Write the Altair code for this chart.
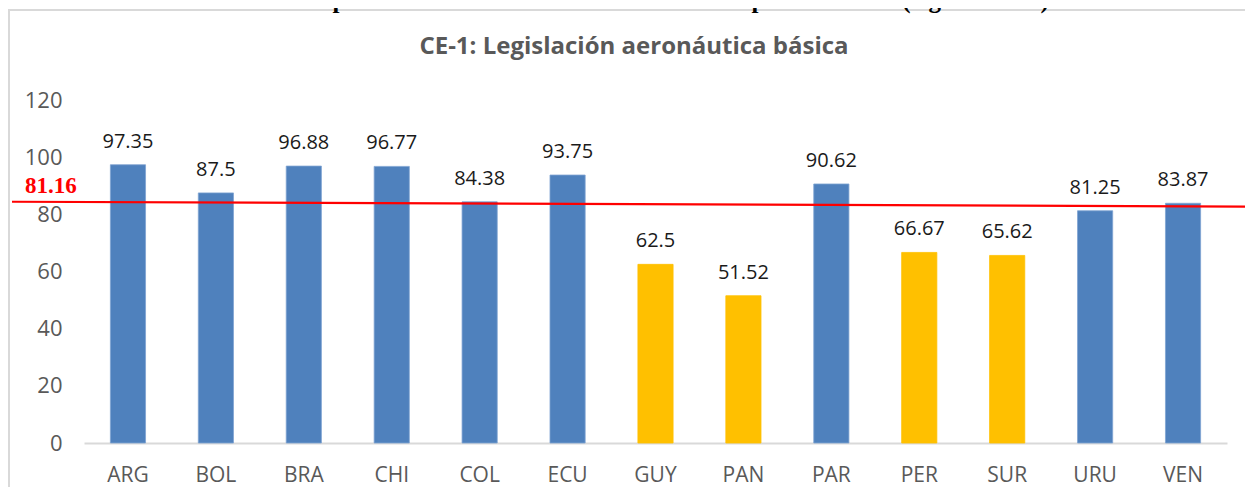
import altair as alt
import pandas as pd

# ---- data ----
countries = ["ARG", "BOL", "BRA", "CHI", "COL", "ECU", "GUY", "PAN", "PAR", "PER", "SUR", "URU", "VEN"]
values = [97.35, 87.5, 96.88, 96.77, 84.38, 93.75, 62.5, 51.52, 90.62, 66.67, 65.62, 81.25, 83.87]
groups = ["above", "above", "above", "above", "above", "above", "below", "below", "above", "below", "below", "above", "above"]
y_ticks = [0, 20, 40, 60, 80, 100, 120]

ref_label = "81.16"
ref_line_left = 84.4   # drawn red line, value at its left end
ref_line_right = 82.7  # value at its right end

chart_title = "CE-1: Legislación aeronáutica básica"
doc_title = "Tabla 6-1 - Aplicación eficaz de los Estados SAM respecto al CE-1 (Agosto 2017)"

df = pd.DataFrame({"country": countries, "value": values, "group": groups})
one = pd.DataFrame({"k": [0]})

W, H = 1143, 343

x_enc = alt.X("country:N", sort=countries,
              scale=alt.Scale(paddingInner=0.6, paddingOuter=0.3),
              axis=alt.Axis(title=None, labelAngle=0, ticks=False, domain=True,
                            domainColor="#d9d9d9", domainWidth=2,
                            labelFontSize=21, labelColor="#595959",
                            labelFont="Open Sans", labelPadding=21))
y_enc = alt.Y("value:Q", scale=alt.Scale(domain=[0, 120], nice=False),
              axis=alt.Axis(title=None, values=y_ticks, grid=False, ticks=False,
                            domain=False, labelFontSize=22, labelColor="#595959",
                            labelFont="Open Sans", labelPadding=22))

frame = alt.Chart(one).mark_rect(fill=None, stroke="#d9d9d9", strokeWidth=2).encode(
    x=alt.value(-75), x2=alt.value(1250), y=alt.value(-90), y2=alt.value(450))

bars = alt.Chart(df).mark_bar(stroke="#6f97cb", strokeWidth=0.8).encode(
    x=x_enc, y=y_enc,
    color=alt.Color("group:N", scale=alt.Scale(domain=["above", "below"],
                                               range=["#4f81bd", "#ffc000"]), legend=None),
    stroke=alt.Color("group:N", scale=alt.Scale(domain=["above", "below"],
                                                range=["#7fa3d2", "#ffc000"]), legend=None))

labels = alt.Chart(df).mark_text(fontSize=20, font="Open Sans", color="#1a1a1a",
                                 baseline="alphabetic", dy=-17).encode(
    x=alt.X("country:N", sort=countries), y="value:Q", text=alt.Text("value:Q"))

red_line = alt.Chart(one).mark_rule(color="#ff0000", strokeWidth=2.2).encode(
    x=alt.value(-72), x2=alt.value(1175),
    y=alt.datum(ref_line_left), y2=alt.datum(ref_line_right))

red_text = alt.Chart(one).mark_text(font="Liberation Serif", fontWeight="bold", fontSize=23,
                                    color="#ff0000", align="left", baseline="alphabetic",
                                    dy=-9).encode(
    x=alt.value(-59), y=alt.datum(ref_line_left), text=alt.value(ref_label))

title_text = alt.Chart(one).mark_text(font="Open Sans", fontWeight="bold", fontSize=24,
                                      color="#595959", align="center",
                                      baseline="alphabetic").encode(
    x=alt.value(550), y=alt.value(-46), text=alt.value(chart_title))

doc_text = alt.Chart(one).mark_text(font="Liberation Serif", fontWeight="bold", fontSize=25,
                                    color="#000000", align="center",
                                    baseline="alphabetic").encode(
    x=alt.value(538), y=alt.value(-92), text=alt.value(doc_title))

chart = alt.layer(frame, bars, labels, red_line, red_text, title_text, doc_text).properties(
    width=W, height=H,
    autosize=alt.AutoSizeParams(type="none"),
    padding={"left": 76, "top": 92, "right": 18, "bottom": 44},
).configure(background="white").configure_view(stroke=None, strokeWidth=0)

chart.save("out.html", embed_options={"renderer": "svg", "actions": False})
